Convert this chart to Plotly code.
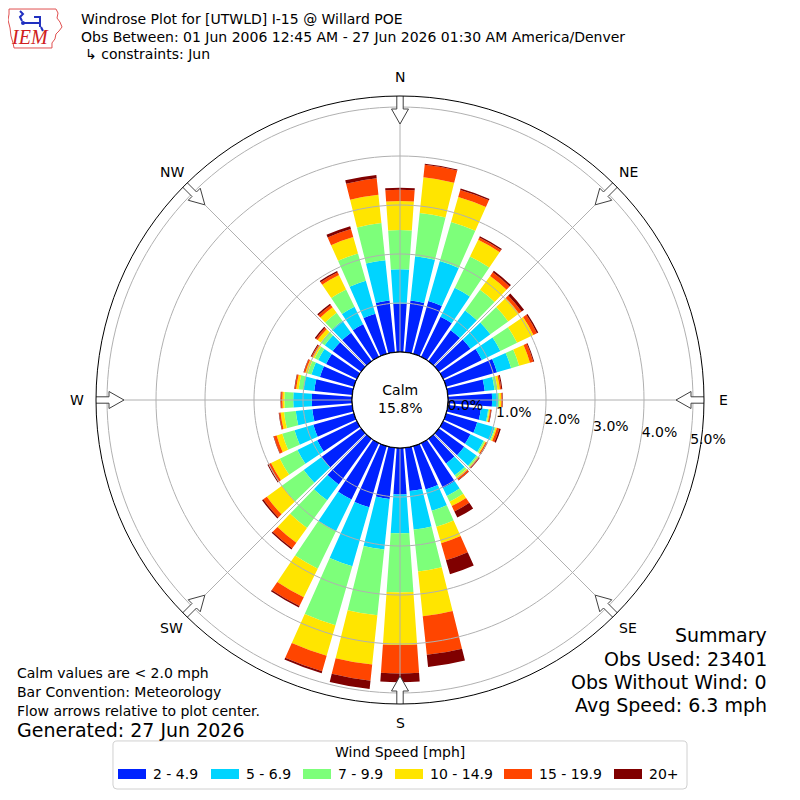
import numpy as np
import plotly.graph_objects as go

# wind directions (deg, where the wind blows from), 10 degree bins
directions = list(range(0, 360, 10))

speed_bins = ["2 - 4.9", "5 - 6.9", "7 - 9.9", "10 - 14.9", "15 - 19.9", "20+"]
bin_colors = ["#0022ff", "#00d4ff", "#7dff7a", "#ffe500", "#ff4500", "#800000"]

# frequency [%] of each speed bin per direction
freq_2_5 = [0.99, 1.06, 1.12, 0.91, 0.78, 0.80, 0.88, 1.08, 0.76, 0.90,
            0.68, 0.66, 0.62, 0.64, 0.62, 1.02, 0.92, 0.89, 0.95, 1.05,
            1.30, 1.28, 1.15, 1.00, 0.90, 0.86, 0.82, 0.82, 0.78, 0.72,
            0.70, 0.72, 0.72, 0.74, 0.85, 1.06]
freq_5_7 = [0.70, 0.91, 0.85, 0.66, 0.50, 0.50, 0.42, 0.30, 0.20, 0.12,
            0.15, 0.37, 0.30, 0.31, 0.30, 0.18, 0.45, 0.79, 0.79, 1.04,
            1.25, 0.72, 0.40, 0.45, 0.45, 0.40, 0.34, 0.38, 0.22, 0.18,
            0.18, 0.20, 0.30, 0.40, 0.70, 0.83]
freq_7_10 = [0.80, 0.89, 0.83, 0.71, 0.52, 0.45, 0.38, 0.17, 0.06, 0.03,
             0.02, 0.02, 0.03, 0.03, 0.05, 0.13, 0.34, 0.86, 1.21, 1.35,
             1.25, 0.85, 0.70, 0.55, 0.40, 0.26, 0.24, 0.18, 0.10, 0.08,
             0.08, 0.10, 0.20, 0.39, 0.58, 0.76]
freq_10_15 = [0.59, 0.73, 0.53, 0.38, 0.35, 0.27, 0.37, 0.23, 0.05, 0.04,
              0.02, 0.03, 0.02, 0.02, 0.03, 0.10, 0.35, 0.92, 1.07, 1.01,
              0.65, 0.65, 0.37, 0.38, 0.20, 0.12, 0.07, 0.04, 0.05, 0.05,
              0.04, 0.08, 0.14, 0.33, 0.35, 0.58]
freq_15_20 = [0.23, 0.26, 0.15, 0.05, 0.09, 0.07, 0.08, 0.07, 0.03, 0.02,
              0.02, 0.05, 0.03, 0.02, 0.04, 0.12, 0.36, 0.79, 0.58, 0.33,
              0.33, 0.20, 0.14, 0.09, 0.06, 0.06, 0.03, 0.03, 0.03, 0.03,
              0.03, 0.04, 0.06, 0.06, 0.17, 0.34]
freq_20_up = [0.04, 0.02, 0.03, 0.03, 0.04, 0.06, 0.03, 0.02, 0.02, 0.01,
              0.01, 0.03, 0.01, 0.01, 0.01, 0.14, 0.30, 0.25, 0.18, 0.17,
              0.04, 0.03, 0.03, 0.03, 0.02, 0.01, 0.01, 0.01, 0.01, 0.01,
              0.02, 0.03, 0.03, 0.03, 0.06, 0.07]
all_freqs = [freq_2_5, freq_5_7, freq_7_10, freq_10_15, freq_15_20, freq_20_up]

calm_pct = 15.8
radial_ticks = [0, 1, 2, 3, 4, 5]
compass_angles = [0, 45, 90, 135, 180, 225, 270, 315]
compass_names = ["N", "NE", "E", "SE", "S", "SW", "W", "NW"]

title_lines = ["Windrose Plot for [UTWLD] I-15 @ Willard POE",
               "Obs Between: 01 Jun 2006 12:45 AM - 27 Jun 2026 01:30 AM America/Denver",
               "\u21b3 constraints: Jun"]
notes_left = ["Calm values are < 2.0 mph", "Bar Convention: Meteorology",
              "Flow arrows relative to plot center."]
generated = "Generated: 27 Jun 2026"
summary_lines = ["Summary", "Obs Used: 23401", "Obs Without Wind: 0", "Avg Speed: 6.3 mph"]

# page geometry: the browser puts an 8px margin round the figure
OFF = 8
W = H = 784
CX = CY = 400          # rose centre on the page
R_OUT = 304
R_HOLE = 48
PX_PER_PCT = 49
rmax = (R_OUT - R_HOLE) / PX_PER_PCT
FONT = "DejaVu Sans"
GRID = "#b0b0b0"


def px2r(rho):
    return (rho - R_HOLE) / PX_PER_PCT


def px(x):
    return (x - OFF) / W


def py(y):
    return 1 - (y - OFF) / H


def text_ann(txt, x, y, size=14, xa="left", ya="middle", color="black", family=FONT):
    return dict(x=px(x), y=py(y), xref="paper", yref="paper", text=txt, showarrow=False,
                xanchor=xa, yanchor=ya, font=dict(family=family, size=size, color=color))


fig = go.Figure()

# stacked bars
for name, color, vals in zip(speed_bins, bin_colors, all_freqs):
    fig.add_trace(go.Barpolar(r=vals, theta=directions, width=8, name=name,
                              marker=dict(color=color, line=dict(width=0)),
                              showlegend=False))

# grid drawn over the bars, like the original
ring_theta = np.arange(0, 361, 2)
for k in radial_ticks[1:]:
    fig.add_trace(go.Scatterpolar(r=[k] * len(ring_theta), theta=ring_theta, mode="lines",
                                  line=dict(color=GRID, width=1), showlegend=False,
                                  hoverinfo="skip"))
for a in compass_angles:
    fig.add_trace(go.Scatterpolar(r=[0, rmax], theta=[a, a], mode="lines",
                                  line=dict(color=GRID, width=1), showlegend=False,
                                  hoverinfo="skip"))

# calm circle outline
fig.add_trace(go.Scatterpolar(r=[0] * len(ring_theta), theta=ring_theta, mode="lines",
                              line=dict(color="black", width=1.2), showlegend=False,
                              hoverinfo="skip"))

# hollow arrows pointing at the plot center
arrow_shape = [(306, -3.2), (306, 3.2), (291, 3.2), (291, 8.5), (276, 0),
               (291, -8.5), (291, -3.2), (306, -3.2)]
for a in compass_angles:
    t = np.radians(a)
    rr, tt = [], []
    for u, v in arrow_shape:
        x = u * np.sin(t) + v * np.cos(t)
        y = u * np.cos(t) - v * np.sin(t)
        rr.append(px2r(np.hypot(x, y)))
        tt.append(np.degrees(np.arctan2(x, y)) % 360)
    fig.add_trace(go.Scatterpolar(r=rr, theta=tt, mode="lines", fill="toself",
                                  fillcolor="white", line=dict(color="#404040", width=1),
                                  showlegend=False, hoverinfo="skip"))

# radial percent labels
fig.add_trace(go.Scatterpolar(r=radial_ticks, theta=[98] * len(radial_ticks), mode="text",
                              text=["%.1f%%" % k for k in radial_ticks],
                              textposition="middle right", cliponaxis=False,
                              textfont=dict(family=FONT, size=14, color="black"),
                              showlegend=False, hoverinfo="skip"))

d0x = (CX - OFF - R_OUT) / W
d0y = (H - (CY - OFF) - R_OUT) / H
fig.update_layout(
    width=W, height=H,
    margin=dict(l=0, r=0, t=0, b=0),
    paper_bgcolor="white",
    showlegend=False,
    font=dict(family=FONT, size=14, color="black"),
    polar=dict(
        domain=dict(x=[d0x, d0x + 2 * R_OUT / W], y=[d0y, d0y + 2 * R_OUT / H]),
        hole=R_HOLE / R_OUT,
        bgcolor="white",
        barmode="stack",
        radialaxis=dict(range=[0, rmax], showgrid=False, showline=False,
                        showticklabels=False, ticks=""),
        angularaxis=dict(rotation=90, direction="clockwise", showgrid=False,
                         showticklabels=False, ticks="", showline=True,
                         linecolor="black", linewidth=1),
    ),
)

annotations = []
shapes = []

# compass labels just outside the ring
for a, name in zip(compass_angles, compass_names):
    t = np.radians(a)
    annotations.append(text_ann(name, CX + 323 * np.sin(t), CY - 323 * np.cos(t), xa="center"))

# calm value in the middle
annotations.append(text_ann("Calm<br>%.1f%%" % calm_pct, CX, 399, xa="center"))

# header
for txt, yy, xx in zip(title_lines, [19, 37, 54], [79, 79, 83]):
    annotations.append(text_ann(txt, xx, yy))

# footnotes
for txt, yy in zip(notes_left, [673, 692, 711]):
    annotations.append(text_ann(txt, 15, yy))
annotations.append(text_ann(generated, 15, 730, size=19))
for txt, yy in zip(summary_lines, [635, 659, 682, 705]):
    annotations.append(text_ann(txt, 769, yy, size=19, xa="right"))

# legend box with rounded corners
bx0, bx1, by0, by1, rc = 113, 687, 741, 789, 4
box = [("M", bx0 + rc, by0), ("L", bx1 - rc, by0), ("Q", bx1, by0, bx1, by0 + rc),
       ("L", bx1, by1 - rc), ("Q", bx1, by1, bx1 - rc, by1), ("L", bx0 + rc, by1),
       ("Q", bx0, by1, bx0, by1 - rc), ("L", bx0, by0 + rc), ("Q", bx0, by0, bx0 + rc, by0)]
box_path = ""
for seg in box:
    pts = seg[1:]
    coords = ["%.4f,%.4f" % (px(pts[i]), py(pts[i + 1])) for i in range(0, len(pts), 2)]
    box_path += seg[0] + " " + " ".join(coords) + " "
shapes.append(dict(type="path", xref="paper", yref="paper", path=box_path + "Z",
                   line=dict(color="#d0d0d0", width=1), fillcolor="white"))
annotations.append(text_ann("Wind Speed [mph]", 400, 752, size=14, xa="center"))
swatch_x = [118, 211, 303, 395, 504, 614]
for name, color, sx in zip(speed_bins, bin_colors, swatch_x):
    shapes.append(dict(type="rect", xref="paper", yref="paper", x0=px(sx), x1=px(sx + 28),
                       y0=py(779), y1=py(769), line=dict(width=0), fillcolor=color))
    annotations.append(text_ann(name, sx + 33, 774, size=14))

# IEM logo (rough outline of Iowa + letters)
iowa = [(9, 9), (56, 9), (58, 13), (57, 18), (60, 22), (62, 27), (59, 31), (56, 34),
        (55, 39), (52, 43), (52, 48), (14, 48), (13, 43), (11, 36), (10, 28), (8, 20), (9, 14)]
path = "M " + " L ".join("%.4f,%.4f" % (px(x), py(y)) for x, y in iowa) + " Z"
shapes.append(dict(type="path", xref="paper", yref="paper", path=path,
                   line=dict(color="#e05050", width=1)))
blue = [[(20, 11), (23, 14), (20, 17), (22, 21)], [(23, 23), (40, 23)],
        [(34, 17), (40, 17), (40, 27)], [(41, 27), (43, 31)]]
for seg in blue:
    p = "M " + " L ".join("%.4f,%.4f" % (px(x), py(y)) for x, y in seg)
    shapes.append(dict(type="path", xref="paper", yref="paper", path=p,
                       line=dict(color="#2030c0", width=2)))
shapes.append(dict(type="circle", xref="paper", yref="paper", x0=px(21), x1=px(25),
                   y0=py(25), y1=py(21), fillcolor="#2030c0", line=dict(width=0)))
annotations.append(text_ann("<i>IEM</i>", 30, 37, size=20, xa="center",
                            color="#d02020", family="Liberation Serif"))

fig.update_layout(annotations=annotations, shapes=shapes)

fig.write_html("out.html")
